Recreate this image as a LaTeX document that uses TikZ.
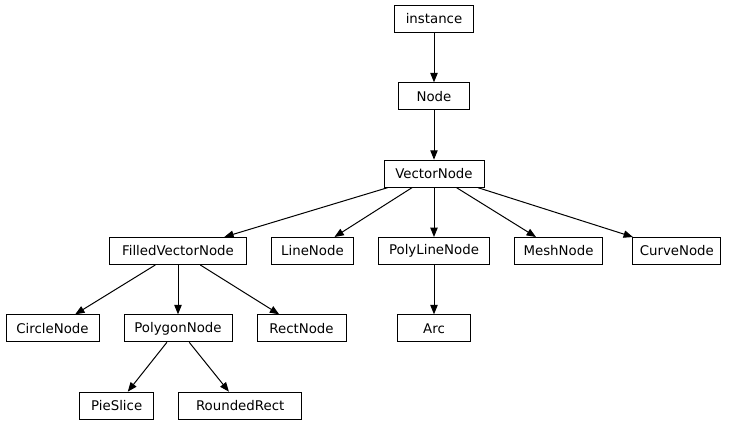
\documentclass[tikz,border=0pt]{standalone}
\usepackage{fontspec}
\setmainfont{DejaVu Sans}
\usetikzlibrary{arrows.meta,positioning}
\tikzset{
  cls/.style={rectangle, draw=black, line width=0.75pt, minimum width=53.25pt, minimum height=20.25pt, inner xsep=4pt, font=\fontsize{10}{12}\selectfont},
  inh/.style={-{Triangle[length=7pt,width=5.5pt]}, line width=0.75pt},
}

\begin{document}
\begin{tikzpicture}[x=0.75pt, y=-0.75pt, node distance=37pt and 18pt]
\useasboundingbox (0,0) rectangle (733,427);

\node[cls, minimum width=59.25pt] (instance) at (434,19) {instance};
\node[cls, below=of instance] (node) {Node};
\node[cls, minimum width=75pt, below=of node] (vectornode) {VectorNode};

% second row
\node[cls, minimum width=83.25pt, below=of vectornode] (polylinenode) {PolyLineNode};
\node[cls, minimum width=61.5pt, left=of polylinenode] (linenode) {LineNode};
\node[cls, minimum width=102.75pt, left=of linenode] (filledvectornode) {FilledVectorNode};
\node[cls, minimum width=66pt, right=of polylinenode] (meshnode) {MeshNode};
\node[cls, minimum width=66pt, right=22pt of meshnode] (curvenode) {CurveNode};

% third row
\node[cls, minimum width=81pt, below=of filledvectornode] (polygonnode) {PolygonNode};
\node[cls, minimum width=69.75pt, left=of polygonnode] (circlenode) {CircleNode};
\node[cls, minimum width=66.75pt, right=of polygonnode] (rectnode) {RectNode};
\node[cls, minimum width=54.75pt, below=of polylinenode] (arc) {Arc};

% fourth row
\node[cls, minimum width=55.5pt, below=of polygonnode, xshift=-46pt] (pieslice) {PieSlice};
\node[cls, minimum width=92.25pt, right=of pieslice] (roundedrect) {RoundedRect};

\draw[inh] (instance) -- (node);
\draw[inh] (node) -- (vectornode);
\draw[inh] (vectornode) -- (filledvectornode);
\draw[inh] (vectornode) -- (linenode);
\draw[inh] (vectornode) -- (polylinenode);
\draw[inh] (vectornode) -- (meshnode);
\draw[inh] (vectornode) -- (curvenode);
\draw[inh] (filledvectornode) -- (circlenode);
\draw[inh] (filledvectornode) -- (polygonnode);
\draw[inh] (filledvectornode) -- (rectnode);
\draw[inh] (polylinenode) -- (arc);
\draw[inh] (polygonnode) -- (pieslice);
\draw[inh] (polygonnode) -- (roundedrect);

\end{tikzpicture}
\end{document}
